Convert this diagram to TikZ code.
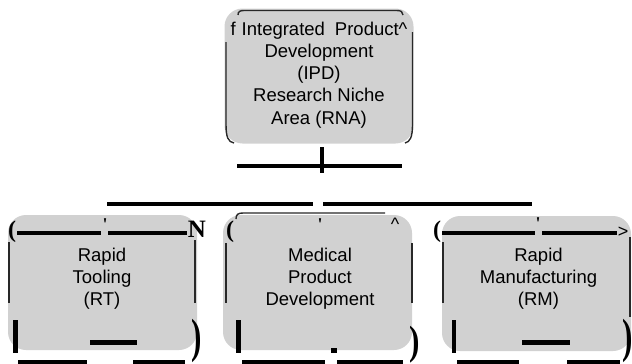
\documentclass[tikz,border=0pt]{standalone}
\usepackage{fontspec}
\setmainfont{Liberation Sans}
\newfontfamily\serifglyph{Liberation Serif}
\definecolor{boxgray}{RGB}{209,209,209}
\definecolor{rimgray}{RGB}{40,40,40}
\begin{document}
\begin{tikzpicture}[x=1pt,y=-1pt,
  graybox/.style={fill=boxgray, rounded corners=18pt, minimum width=189pt,
    minimum height=135pt, inner sep=0pt, draw=none},
  boxtext/.style={align=center, font=\fontsize{18.5}{22.2}\selectfont,
    inner sep=0pt, text=black},
  thickbar/.style={line width=4.6pt, black},
  rimline/.style={line width=1.4pt, rimgray},
  glyph/.style={inner sep=0pt, text=black},
  bigparen/.style={glyph, font=\serifglyph\bfseries\fontsize{48}{48}\selectfont},
  smallparen/.style={glyph, font=\serifglyph\bfseries\fontsize{24}{24}\selectfont},
  tick/.style={glyph, font=\serifglyph\bfseries\fontsize{18}{18}\selectfont},
  sansmark/.style={glyph, font=\fontsize{18}{18}\selectfont}
]
\useasboundingbox (0,0) rectangle (632,364);

% ---------- boxes ----------
\node[graybox] (ipd) at (319,76) {};
\node[graybox] (rt)  at (102.5,282.5) {};
\node[graybox] (mpd) at (317.5,282.5) {};
\node[graybox] (rm)  at (536.5,283.5) {};

% ---------- box texts ----------
\node[boxtext] (ipdtext) at (319,75)
  {f\hspace{6pt}Integrated\hspace{10pt}Product\textasciicircum\\Development\\(IPD)\\Research Niche\\Area (RNA)};
\node[boxtext] (rttext)  at (102,279) {Rapid\\Tooling\\(RT)};
\node[boxtext] (mpdtext) at (320,279) {Medical\\Product\\Development};
\node[boxtext] (rmtext)  at (538.5,279) {Rapid\\Manufacturing\\(RM)};

% ---------- rim of the top box ----------
\draw[rimline] (238,15) .. controls (238,11.5) and (240,10.5) .. (244,10.5)
  -- (397,10.5) .. controls (401,10.5) and (403,12) .. (403,15);
\draw[rimline] (226,42) -- (226,124) .. controls (226,137) and (228,142) .. (234,143);
\draw[rimline] (412.5,32) -- (412.5,125) .. controls (412.5,137) and (410,142) .. (405,143);

% ---------- connectors ----------
\coordinate (stemtop) at (322,147);
\coordinate (stembot) at (322,173);
\coordinate (crossl) at (237,166);
\coordinate (crossr) at (402,166);
\coordinate (hubl) at (107,204);
\coordinate (hubgapl) at (313,204);
\coordinate (hubgapr) at (323,204);
\coordinate (hubr) at (532,204);
\draw[thickbar] (stemtop) -- (stembot);
\draw[thickbar] (crossl) -- (crossr);
\draw[thickbar] (hubl) -- (hubgapl);
\draw[thickbar] (hubgapr) -- (hubr);

% ---------- left box marks ----------
\draw[thickbar] (17,233) -- (101,233);
\draw[thickbar] (108,233) -- (187,233);
\draw[rimline] (9,242) -- (9,303);
\draw[rimline] (195,240) -- (195,303);
\draw[thickbar] (15.5,320) -- (15.5,353);
\draw[thickbar] (90,342.5) -- (137,342.5);
\draw[thickbar] (18,362) -- (87,362);
\draw[thickbar] (133,362) -- (185,362);
\node[smallparen] (rtopen) at (12,232) {(};
\node[tick] (rttick) at (105,225) {'};
\node[glyph, font=\serifglyph\bfseries\fontsize{25}{25}\selectfont] (rtn) at (197,229) {N};
\node[bigparen] (rtclose) at (197,341) {\scalebox{0.65}[1]{)}};

% ---------- middle box marks ----------
\draw[rimline] (236,219) .. controls (236,214.5) and (238,213) .. (243,213) -- (385,213);
\draw[rimline] (226,243) -- (226,303);
\draw[rimline] (412,243) -- (412,303);
\draw[thickbar] (238.5,320) -- (238.5,353);
\fill[black] (331,348) rectangle (337,353);
\draw[thickbar] (242,362) -- (325,362);
\draw[thickbar] (337,362) -- (403,362);
\node[smallparen] (mpdopen) at (230,232) {(};
\node[tick] (mpdtick) at (320,225) {'};
\node[sansmark] (mpdcaret) at (395,224) {\textasciicircum};
\node[bigparen] (mpdclose) at (415,345) {\scalebox{0.65}[0.85]{)}};

% ---------- right box marks ----------
\draw[thickbar] (442,233) -- (535,233);
\draw[thickbar] (542,233) -- (617,233);
\draw[rimline] (443,242) -- (443,303);
\draw[rimline] (630,237) -- (630,317);
\draw[thickbar] (454,320) -- (454,353);
\draw[thickbar] (522,342.5) -- (570,342.5);
\draw[thickbar] (457,362) -- (519,362);
\draw[thickbar] (567,362) -- (620,362);
\node[smallparen] (rmopen) at (437,232) {(};
\node[tick] (rmtick) at (538,224) {'};
\node[sansmark] (rmarrow) at (623,232) {>};
\node[bigparen] (rmclose) at (628,341) {\scalebox{0.65}[1]{)}};
\end{tikzpicture}
\end{document}
